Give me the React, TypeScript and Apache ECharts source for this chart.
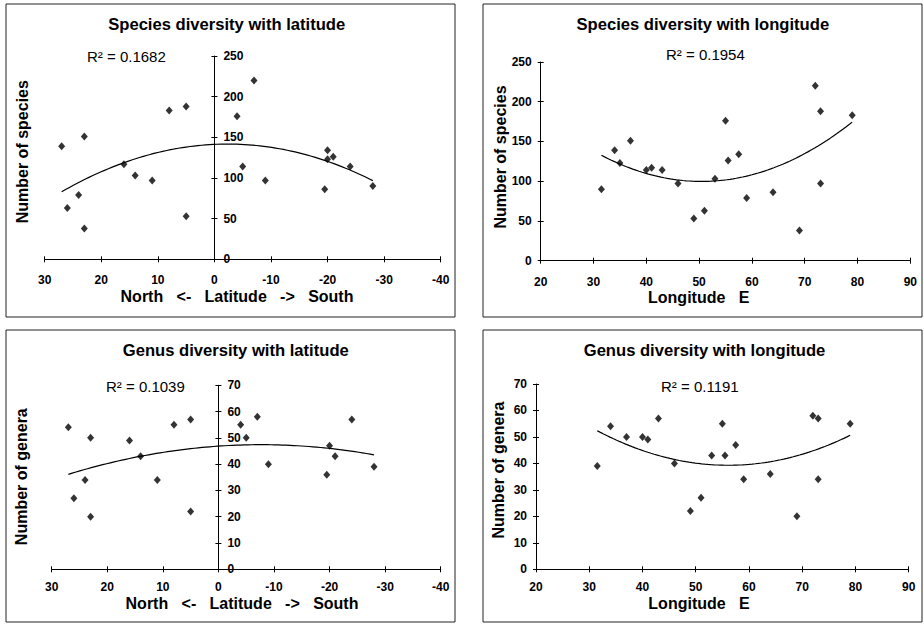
import React, { useEffect, useRef } from "react";
import * as echarts from "echarts";

// ---- data (one entry per site) ----
const siteLatitude = [27, 26, 24, 23, 23, 16, 14, 11, 8, 5, 5, -4, -7, -5, -9, -19.5, -20, -20, -21, -24, -28];
const siteLongitude = [34, 51, 59, 37, 69, 41, 53, 73, 79, 73, 49, 55, 72, 40, 46, 64, 57.5, 35, 55.5, 43, 31.5];
const speciesCount = [139, 63, 79, 151, 38, 117, 103, 97, 183, 188, 53, 176, 220, 114, 97, 86, 134, 123, 126, 114, 90];
const generaCount: (number | null)[] = [54, 27, 34, 50, 20, 49, 43, 34, 55, 57, 22, 55, 58, 50, 40, 36, 47, null, 43, 57, 39];

const panelTitles = [
  "Species diversity with latitude",
  "Species diversity with longitude",
  "Genus diversity with latitude",
  "Genus diversity with longitude",
];
const rSquaredLabels = ["R\u00B2 = 0.1682", "R\u00B2 = 0.1954", "R\u00B2 = 0.1039", "R\u00B2 = 0.1191"];
const xAxisNames = ["North   <-   Latitude   ->   South", "Longitude   E", "North   <-   Latitude   ->   South", "Longitude   E"];
const yAxisNames = ["Number of species", "Number of species", "Number of genera", "Number of genera"];

const latitudeScale = { min: -40, max: 30, interval: 10 };
const longitudeScale = { min: 20, max: 90, interval: 10 };
const speciesScale = { min: 0, max: 250, interval: 50 };
const generaScale = { min: 0, max: 70, interval: 10 };

// ---- helpers ----
function pairs(xs: number[], ys: (number | null)[]): number[][] {
  const out: number[][] = [];
  xs.forEach((x, i) => {
    const y = ys[i];
    if (y !== null && y !== undefined) out.push([x, y]);
  });
  return out;
}

// least-squares 2nd-order polynomial trend (like a spreadsheet trendline)
function quadTrend(pts: number[][], steps = 80): number[][] {
  let n = 0, s1 = 0, s2 = 0, s3 = 0, s4 = 0, t0 = 0, t1 = 0, t2 = 0;
  pts.forEach(([x, y]) => {
    n++; s1 += x; s2 += x * x; s3 += x * x * x; s4 += x * x * x * x;
    t0 += y; t1 += x * y; t2 += x * x * y;
  });
  const A = [
    [n, s1, s2, t0],
    [s1, s2, s3, t1],
    [s2, s3, s4, t2],
  ];
  for (let i = 0; i < 3; i++) {
    let p = i;
    for (let r = i + 1; r < 3; r++) if (Math.abs(A[r][i]) > Math.abs(A[p][i])) p = r;
    [A[i], A[p]] = [A[p], A[i]];
    for (let r = 0; r < 3; r++) {
      if (r === i) continue;
      const f = A[r][i] / A[i][i];
      for (let c = i; c < 4; c++) A[r][c] -= f * A[i][c];
    }
  }
  const a = A[0][3] / A[0][0], b = A[1][3] / A[1][1], c = A[2][3] / A[2][2];
  const xsOnly = pts.map((p) => p[0]);
  const lo = Math.min(...xsOnly), hi = Math.max(...xsOnly);
  const out: number[][] = [];
  for (let k = 0; k <= steps; k++) {
    const x = lo + ((hi - lo) * k) / steps;
    out.push([x, a + b * x + c * x * x]);
  }
  return out;
}

const FONT = "Liberation Sans, Arial, sans-serif";

export default function App() {
  const ref = useRef<HTMLDivElement>(null);

  useEffect(() => {
    if (!ref.current) return;
    const chart = echarts.init(ref.current, undefined, { renderer: "svg" });

    const datasets = [
      pairs(siteLatitude, speciesCount),
      pairs(siteLongitude, speciesCount),
      pairs(siteLatitude, generaCount),
      pairs(siteLongitude, generaCount),
    ];

    const grids = [
      { left: 44.7, top: 56, width: 396, height: 203.3 },
      { left: 540.7, top: 62, width: 369.6, height: 198.7 },
      { left: 51.7, top: 385.3, width: 389, height: 184 },
      { left: 536, top: 384, width: 372.7, height: 185.3 },
    ];
    const isLat = [true, false, true, false];
    const yScales = [speciesScale, speciesScale, generaScale, generaScale];
    const xLabelMargin = [15, 15, 12, 12];

    const labelStyle = { color: "#000", fontFamily: FONT, fontWeight: "bold" as const, fontSize: 12 };
    const lineStyle = { color: "#000", width: 1 };

    // offset that puts the latitude panels' y axis at latitude 0
    const yOffset = (i: number) => {
      if (!isLat[i]) return 0;
      const g = grids[i];
      const frac = (latitudeScale.max - 0) / (latitudeScale.max - latitudeScale.min);
      return -g.width * frac;
    };

    const xAxes: any[] = [];
    const yAxes: any[] = [];
    // main axes (with labels, outward ticks)
    grids.forEach((_, i) => {
      xAxes.push({
        gridIndex: i,
        type: "value",
        position: "bottom",
        ...(isLat[i] ? latitudeScale : longitudeScale),
        inverse: isLat[i],
        axisLine: { show: true, onZero: false, lineStyle },
        axisTick: { show: true, length: 3, lineStyle },
        axisLabel: { ...labelStyle, margin: xLabelMargin[i] },
        splitLine: { show: false },
      });
      yAxes.push({
        gridIndex: i,
        type: "value",
        position: "left",
        offset: yOffset(i),
        ...yScales[i],
        axisLine: { show: true, onZero: false, lineStyle },
        axisTick: { show: true, length: 3, lineStyle },
        axisLabel: { ...labelStyle, margin: isLat[i] ? 9 : 9, inside: isLat[i] },
        splitLine: { show: false },
      });
    });
    // companion axes giving the ticks their other half (ticks cross the axis line)
    grids.forEach((_, i) => {
      xAxes.push({
        gridIndex: i,
        type: "value",
        position: "bottom",
        ...(isLat[i] ? latitudeScale : longitudeScale),
        inverse: isLat[i],
        axisLine: { show: false, onZero: false },
        axisTick: { show: true, inside: true, length: 3, lineStyle },
        axisLabel: { show: false },
        splitLine: { show: false },
      });
      yAxes.push({
        gridIndex: i,
        type: "value",
        position: "left",
        offset: yOffset(i),
        ...yScales[i],
        axisLine: { show: false, onZero: false },
        axisTick: { show: true, inside: true, length: 3, lineStyle },
        axisLabel: { show: false },
        splitLine: { show: false },
      });
    });

    const series: any[] = [];
    datasets.forEach((d, i) => {
      series.push({
        type: "line",
        xAxisIndex: i,
        yAxisIndex: i,
        data: quadTrend(d),
        showSymbol: false,
        symbol: "none",
        lineStyle: { color: "#000", width: 1.2 },
        silent: true,
        z: 2,
      });
      series.push({
        type: "scatter",
        xAxisIndex: i,
        yAxisIndex: i,
        data: d,
        symbol: "diamond",
        symbolSize: [7, 8],
        itemStyle: { color: "#000" },
        z: 3,
      });
    });

    const frames = [
      { x: 6, y: 4, w: 449, h: 313 },
      { x: 483, y: 4, w: 439, h: 313 },
      { x: 6, y: 330, w: 449, h: 292 },
      { x: 483, y: 330, w: 439, h: 292 },
    ];
    const titlePos = [
      [226.7, 24],
      [702.8, 24],
      [235.8, 350],
      [704.5, 350],
    ];
    const rPos = [
      [87, 56],
      [666, 54],
      [106, 386],
      [661, 386],
    ];
    const xNamePos = [
      [237, 296.5],
      [698.7, 297.5],
      [242, 603.5],
      [699, 603.5],
    ];
    const yNamePos = [
      [22.7, 151.7],
      [500, 157],
      [21.7, 476.7],
      [498.7, 470],
    ];

    const graphic: any[] = [];
    frames.forEach((f) => {
      graphic.push({
        type: "rect",
        shape: { x: f.x, y: f.y, width: f.w, height: f.h },
        style: { fill: "none", stroke: "#222", lineWidth: 1 },
        silent: true,
      });
    });
    for (let i = 0; i < 4; i++) {
      graphic.push({
        type: "text",
        x: titlePos[i][0],
        y: titlePos[i][1],
        style: { text: panelTitles[i], font: `bold 16.6px ${FONT}`, fill: "#000", align: "center", verticalAlign: "middle" },
      });
      graphic.push({
        type: "text",
        x: rPos[i][0],
        y: rPos[i][1],
        style: { text: rSquaredLabels[i], font: `15px ${FONT}`, fill: "#000", align: "left", verticalAlign: "middle" },
      });
      graphic.push({
        type: "text",
        x: xNamePos[i][0],
        y: xNamePos[i][1],
        style: { text: xAxisNames[i], font: `bold 16px ${FONT}`, fill: "#000", align: "center", verticalAlign: "middle" },
      });
      graphic.push({
        type: "text",
        x: yNamePos[i][0],
        y: yNamePos[i][1],
        rotation: Math.PI / 2,
        style: { text: yAxisNames[i], font: `bold 16px ${FONT}`, fill: "#000", align: "center", verticalAlign: "middle" },
      });
    }

    chart.setOption({
      animation: false,
      backgroundColor: "#fff",
      grid: grids,
      xAxis: xAxes,
      yAxis: yAxes,
      series,
      graphic,
    });

    return () => chart.dispose();
  }, []);

  return <div ref={ref} style={{ position: "fixed", left: 0, top: 0, width: 924, height: 624 }} />;
}
